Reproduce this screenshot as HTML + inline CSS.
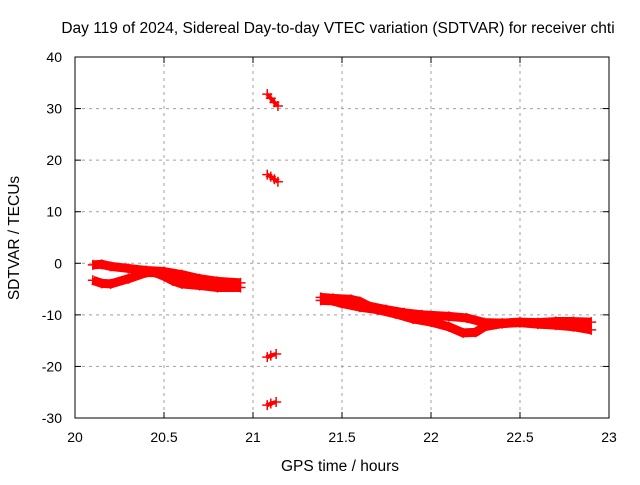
<!DOCTYPE html>
<html><head><meta charset="utf-8"><style>
html,body{margin:0;padding:0;background:#fff;}
svg text{font-family:"Liberation Sans",sans-serif;fill:#000;}
</style></head><body>
<svg id="chart" width="640" height="480" viewBox="0 0 640 480" xmlns="http://www.w3.org/2000/svg">
<rect width="640" height="480" fill="#fff"/>
<text x="338" y="33" font-size="15.5" text-anchor="middle">Day 119 of 2024, Sidereal Day-to-day VTEC variation (SDTVAR) for receiver chti</text>
<text x="340" y="471" font-size="15.5" text-anchor="middle">GPS time / hours</text>
<text transform="translate(19,238) rotate(-90)" font-size="15.5" text-anchor="middle">SDTVAR / TECUs</text>
<g id="grid"></g>
<g id="marks"></g>
<rect x="75" y="57" width="534" height="361" fill="none" stroke="#000" stroke-width="1"/>
<g id="ticks"></g>
</svg>
<script>
const xTicks=[20,20.5,21,21.5,22,22.5,23];
const xTickLabels=["20","20.5","21","21.5","22","22.5","23"];
const yTicks=[40,30,20,10,0,-10,-20,-30];
const yTickLabels=["40","30","20","10","0","-10","-20","-30"];
const bandAx=[20.1,20.15,20.2,20.3,20.4,20.5,20.6,20.7,20.8,20.93];
const bandAy=[-0.3,-0.2,-0.6,-1.0,-1.4,-1.6,-2.2,-3.0,-3.5,-3.8];
const bandBx=[20.1,20.15,20.2,20.3,20.4,20.45,20.5,20.55,20.6,20.7,20.8,20.93];
const bandBy=[-3.3,-3.9,-4.0,-3.0,-1.8,-1.8,-2.5,-3.4,-4.0,-4.3,-4.7,-4.7];
const bandCx=[21.38,21.45,21.55,21.6,21.65,21.75,21.85,21.95,22.1,22.2,22.3,22.4,22.5,22.6,22.7,22.8,22.9];
const bandCy=[-6.6,-6.8,-7.0,-7.4,-8.3,-9.0,-9.6,-10.0,-10.3,-10.6,-11.5,-11.6,-11.4,-11.5,-11.3,-11.3,-11.4];
const bandDx=[21.38,21.45,21.5,21.6,21.7,21.8,21.9,22.0,22.1,22.18,22.25,22.3,22.4,22.5,22.6,22.7,22.8,22.9];
const bandDy=[-7.2,-7.3,-7.8,-8.5,-9.0,-9.8,-10.8,-11.4,-12.3,-13.5,-13.4,-12.3,-11.7,-11.5,-11.8,-12.0,-12.3,-12.9];
const spike1x=[21.08,21.1,21.12,21.14];const spike1y=[32.8,32.0,31.2,30.5];
const spike2x=[21.08,21.1,21.12,21.14];const spike2y=[17.2,16.8,16.3,15.8];
const spike3x=[21.08,21.1,21.13];const spike3y=[-18.2,-17.9,-17.6];
const spike4x=[21.08,21.1,21.13];const spike4y=[-27.5,-27.2,-26.9];

const L=75,R=609,T=57,B=418;
const X=v=>L+(v-20)/3*(R-L);
const Y=v=>T+(40-v)/70*(B-T);
const NS="http://www.w3.org/2000/svg";
function mk(tag,attrs,parent){const e=document.createElementNS(NS,tag);for(const k in attrs)e.setAttribute(k,attrs[k]);parent.appendChild(e);return e;}
const grid=document.getElementById('grid'),ticks=document.getElementById('ticks'),marks=document.getElementById('marks');
xTicks.forEach((t,i)=>{
  const x=X(t);
  if(i>0&&i<xTicks.length-1){const g=mk('line',{x1:x,x2:x,y1:T,y2:B,stroke:'#a0a0a0','stroke-dasharray':'3,4'},grid);
  
  }
  mk('line',{x1:x,x2:x,y1:B,y2:B-6,stroke:'#000'},ticks);
  mk('line',{x1:x,x2:x,y1:T,y2:T+6,stroke:'#000'},ticks);
  const tx=mk('text',{x:x,y:442,'font-size':'14','text-anchor':'middle'},ticks);tx.textContent=xTickLabels[i];
  
  
});
yTicks.forEach((t,i)=>{
  const y=Y(t);
  if(i>0&&i<yTicks.length-1){const g=mk('line',{x1:L,x2:R,y1:y,y2:y,stroke:'#a0a0a0','stroke-dasharray':'3,4'},grid);
  
  }
  mk('line',{x1:L,x2:L+6,y1:y,y2:y,stroke:'#000'},ticks);
  mk('line',{x1:R,x2:R-6,y1:y,y2:y,stroke:'#000'},ticks);
  const tx=mk('text',{x:62,y:y+5,'font-size':'14','text-anchor':'end'},ticks);tx.textContent=yTickLabels[i];
  
  
});
function series(xs,ys,name,w){
  const g=mk('g',{},marks);
  
  
  mk('polyline',{points:xs.map((x,i)=>X(x)+','+Y(ys[i])).join(' '),fill:'none',stroke:'#f00','stroke-width':w,'stroke-linejoin':'round'},g);
  xs.forEach((x,i)=>{
    const px=X(x),py=Y(ys[i]);
    const p=mk('path',{d:`M${px-5},${py}h10M${px},${py-5}v10`,stroke:'#f00','stroke-width':1.5},g);
    
    
  });
}
series(bandAx,bandAy,'series-band-a',9);
series(bandBx,bandBy,'series-band-b',9);
series(bandCx,bandCy,'series-band-c',9);
series(bandDx,bandDy,'series-band-d',9);
series(spike1x,spike1y,'series-spike-1',4);
series(spike2x,spike2y,'series-spike-2',4);
series(spike3x,spike3y,'series-spike-3',4);
series(spike4x,spike4y,'series-spike-4',4);
</script>
</body></html>
